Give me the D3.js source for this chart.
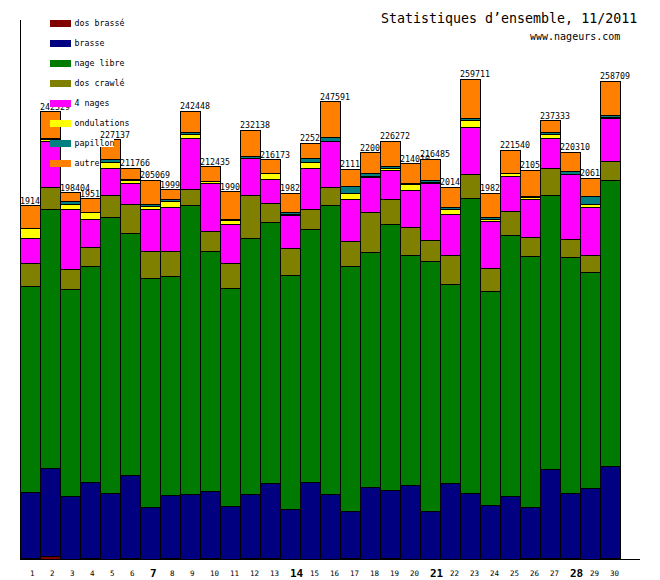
<!DOCTYPE html>
<html>
<head>
<meta charset="utf-8">
<script src="https://cdn.jsdelivr.net/npm/d3@7"></script>
<style>
  body { margin: 0; background: #fff; }
  text { font-family: "DejaVu Sans Mono", monospace; }
</style>
</head>
<body>
<script>
const width = 660;
const height = 580;

// one bar per day of November 2011
const days = [1, 2, 3, 4, 5, 6, 7, 8, 9, 10, 11, 12, 13, 14, 15,
  16, 17, 18, 19, 20, 21, 22, 23, 24, 25, 26, 27, 28, 29, 30];
const boldDays = [7, 14, 21, 28];

// metres per stroke, bottom of the stack first
const dosBrasse = [541, 1460, 160, 541, 160, 541, 160, 541, 160, 541, 160, 541, 541, 160, 160,
  160, 541, 160, 541, 160, 160, 160, 160, 160, 160, 541, 541, 541, 160, 541];
const brasse = [35540, 47600, 33920, 40950, 35700, 44900, 28130, 33920, 35000, 36080, 28510, 34460, 40410, 26890, 41490,
  35000, 25430, 38790, 36630, 40030, 25970, 40950, 35540, 29050, 33920, 27430, 47990, 35000, 38250, 49610];
const nageLibre = [111446, 140120, 111990, 116860, 149150, 130760, 123730, 118480, 156350, 129840, 117940, 138500, 141200, 126590, 136870,
  156350, 132380, 127140, 143910, 124430, 135090, 107660, 159600, 115770, 140980, 135790, 148230, 127680, 116860, 154730];
const dosCrawle = [12443, 11900, 10820, 10280, 11900, 15690, 14610, 13525, 8660, 10820, 13525, 23260, 10280, 14610, 10820,
  9740, 13690, 21640, 13525, 14990, 11360, 15690, 12980, 12440, 12980, 10280, 14610, 9900, 9200, 10280];
const quatreNages = [13525, 24890, 32460, 15150, 14610, 11360, 22720, 23800, 27590, 25970, 20990, 20180, 12980, 17640, 22180,
  24670, 22560, 18720, 16010, 20020, 30840, 22180, 25210, 25430, 18940, 20560, 16550, 35000, 25750, 23590];
const ondulations = [5410, 1080, 2870, 3950, 3250, 1620, 1620, 3250, 2160, 1240, 2430, 160, 3250, 540, 3250,
  380, 3250, 810, 1080, 3410, 540, 2705, 4000, 1080, 1840, 1410, 2160, 160, 1840, 540];
const papillon = [162, 540, 1240, 160, 1620, 540, 1240, 1080, 1080, 160, 160, 1080, 270, 1240, 2160,
  2000, 3950, 1350, 920, 270, 1080, 1080, 1080, 1080, 270, 160, 810, 1620, 4330, 810];
const autre = [12384, 14739, 4944, 7250, 10747, 6355, 12859, 5350, 11448, 7784, 15300, 13957, 7242, 10600, 8300,
  19291, 9350, 11400, 13656, 10700, 11445, 11000, 21141, 13200, 12450, 14400, 6442, 10409, 9800, 18608];

const seriesNames = ['dos brassé', 'brasse', 'nage libre', 'dos crawlé', '4 nages', 'ondulations', 'papillon', 'autre'];
const seriesValues = [dosBrasse, brasse, nageLibre, dosCrawle, quatreNages, ondulations, papillon, autre];
const seriesColors = ['#800000', '#000080', '#007a00', '#808000', '#ff00ff', '#ffff00', '#008080', '#ff8000'];

const table = days.map((d, i) => {
  const row = { day: d };
  seriesNames.forEach((s, j) => { row[s] = seriesValues[j][i]; });
  row.total = d3.sum(seriesValues, v => v[i]);
  return row;
});

const svg = d3.select('body').append('svg')
  .attr('width', width)
  .attr('height', height);

const x = d3.scaleBand()
  .domain(days)
  .range([20, 620])
  .padding(0);

const y = d3.scaleLinear()
  .domain([0, 291600])
  .range([559, 20]);

const stacked = d3.stack().keys(seriesNames)(table);
const color = d3.scaleOrdinal().domain(seriesNames).range(seriesColors);

// draw day by day so the next bar covers the end of a long label, like the original
const bar = svg.append('g')
  .selectAll('g')
  .data(table)
  .enter().append('g');

bar.each(function (row, i) {
  const g = d3.select(this);
  stacked.forEach(layer => {
    const seg = layer[i];
    g.append('rect')
      .attr('x', x(row.day) + 0.5)
      .attr('y', Math.round(y(seg[1])) + 0.5)
      .attr('width', x.bandwidth())
      .attr('height', Math.max(0, Math.round(y(seg[0])) - Math.round(y(seg[1]))))
      .attr('fill', color(layer.key))
      .attr('stroke', '#000')
      .attr('shape-rendering', 'crispEdges');
  });
  g.append('text')
    .attr('x', x(row.day))
    .attr('y', y(row.total) - 1.5)
    .attr('font-size', '8.3px')
    .attr('fill', '#000')
    .text(row.total);
});

// axes
svg.append('line')
  .attr('x1', 20.5).attr('x2', 20.5)
  .attr('y1', 20).attr('y2', 560)
  .attr('stroke', '#000');

svg.append('line')
  .attr('x1', 20).attr('x2', 640)
  .attr('y1', 559.5).attr('y2', 559.5)
  .attr('stroke', '#000');

svg.append('g')
  .selectAll('text')
  .data(days)
  .enter().append('text')
    .attr('x', d => x(d) + x.bandwidth() / 2)
    .attr('y', d => boldDays.includes(d) ? 577 : 576)
    .attr('font-size', d => boldDays.includes(d) ? '11px' : '7.5px')
    .attr('font-weight', d => boldDays.includes(d) ? 'bold' : 'normal')
    .attr('fill', '#000')
    .text(d => d);

// legend, drawn on top of the bars
const legend = svg.append('g')
  .selectAll('g')
  .data(seriesNames)
  .enter().append('g')
    .attr('transform', (d, i) => `translate(50, ${20 + i * 20})`);

legend.append('rect')
  .attr('width', 21)
  .attr('height', 7)
  .attr('fill', d => color(d));

legend.append('rect')
  .attr('x', 24)
  .attr('y', -1)
  .attr('width', d => d.length * 5)
  .attr('height', 8)
  .attr('fill', '#fff');

legend.append('text')
  .attr('x', 24.5)
  .attr('y', 6)
  .attr('font-size', '8.3px')
  .attr('fill', '#000')
  .text(d => d);

svg.append('text')
  .attr('x', 381)
  .attr('y', 23)
  .attr('font-size', '13.3px')
  .attr('fill', '#000')
  .text('Statistiques d’ensemble, 11/2011');

svg.append('text')
  .attr('x', 530)
  .attr('y', 40)
  .attr('font-size', '10px')
  .attr('fill', '#000')
  .text('www.nageurs.com');
</script>
</body>
</html>
